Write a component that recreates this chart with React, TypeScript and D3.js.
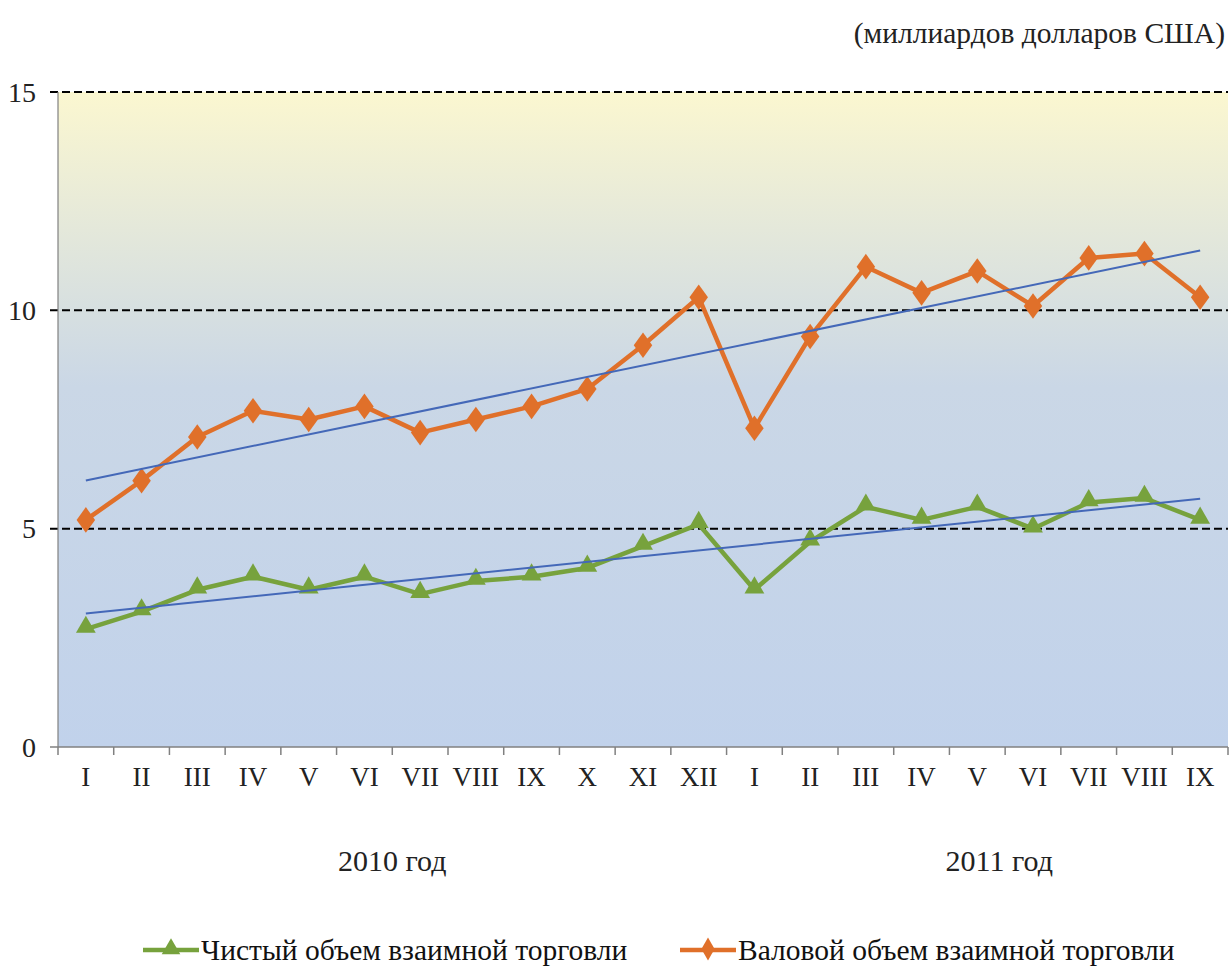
import React, { useEffect, useRef } from 'react';
import * as d3 from 'd3';

const months = ['I', 'II', 'III', 'IV', 'V', 'VI', 'VII', 'VIII', 'IX', 'X', 'XI', 'XII',
  'I', 'II', 'III', 'IV', 'V', 'VI', 'VII', 'VIII', 'IX'];
const years = [
  { label: '2010 год', from: 0, to: 11 },
  { label: '2011 год', from: 12, to: 20 },
];
const netTrade = [2.7, 3.1, 3.6, 3.9, 3.6, 3.9, 3.5, 3.8, 3.9, 4.1, 4.6, 5.1,
  3.6, 4.7, 5.5, 5.2, 5.5, 5.0, 5.6, 5.7, 5.2];
const grossTrade = [5.2, 6.1, 7.1, 7.7, 7.5, 7.8, 7.2, 7.5, 7.8, 8.2, 9.2, 10.3,
  7.3, 9.4, 11.0, 10.4, 10.9, 10.1, 11.2, 11.3, 10.3];
const yTicks = [0, 5, 10, 15];
const seriesNames = ['Чистый объем взаимной торговли', 'Валовой объем взаимной торговли'];
const unitsLabel = '(миллиардов долларов США)';

const GREEN = '#77A23D';
const ORANGE = '#E0702A';
const TREND = '#4468B8';

const App: React.FC = () => {
  const svgRef = useRef<SVGSVGElement>(null);

  useEffect(() => {
    if (!svgRef.current) return;
    const width = 1231;
    const height = 969;
    const margin = { top: 92, right: 3, bottom: 222, left: 58 };

    const svg = d3.select(svgRef.current);
    svg.selectAll('*').remove();
    svg.attr('width', width).attr('height', height)
      .style('font-family', '"Liberation Serif", "Times New Roman", serif');

    const idx = d3.range(months.length);
    const x = d3.scaleBand<number>()
      .domain(idx)
      .range([margin.left, width - margin.right]);
    const cx = (i: number) => (x(i) as number) + x.bandwidth() / 2;
    const y = d3.scaleLinear().domain([0, 15]).range([height - margin.bottom, margin.top]);

    // background gradient
    const defs = svg.append('defs');
    const grad = defs.append('linearGradient')
      .attr('id', 'bg').attr('x1', 0).attr('y1', 0).attr('x2', 0).attr('y2', 1);
    grad.append('stop').attr('offset', '0%').attr('stop-color', '#FBF7D0');
    grad.append('stop').attr('offset', '45%').attr('stop-color', '#CAD7E6');
    grad.append('stop').attr('offset', '100%').attr('stop-color', '#C1D2EB');

    svg.append('rect')
      .attr('x', margin.left).attr('y', y(15))
      .attr('width', width - margin.right - margin.left)
      .attr('height', y(0) - y(15))
      .attr('fill', 'url(#bg)');

    // gridlines
    svg.append('g')
      .selectAll('line')
      .data(yTicks.filter(t => t > 0))
      .join('line')
      .attr('x1', margin.left - 8).attr('x2', width - margin.right)
      .attr('y1', d => y(d)).attr('y2', d => y(d))
      .attr('stroke', '#000')
      .attr('stroke-width', 2)
      .attr('stroke-dasharray', '8,4');

    // y axis
    const yAxis = svg.append('g');
    yAxis.append('line')
      .attr('x1', margin.left).attr('x2', margin.left)
      .attr('y1', y(15)).attr('y2', y(0))
      .attr('stroke', '#808080').attr('stroke-width', 1.2);
    yAxis.selectAll('text')
      .data(yTicks)
      .join('text')
      .attr('x', margin.left - 22)
      .attr('y', d => y(d))
      .attr('dy', '0.35em')
      .attr('text-anchor', 'end')
      .attr('font-size', 28)
      .attr('fill', '#222')
      .text(d => d);

    // x axis
    const xAxis = svg.append('g');
    xAxis.append('line')
      .attr('x1', margin.left - 8).attr('x2', width - margin.right)
      .attr('y1', y(0)).attr('y2', y(0))
      .attr('stroke', '#808080').attr('stroke-width', 1.5);
    xAxis.selectAll('line.tick')
      .data(d3.range(months.length + 1))
      .join('line')
      .attr('class', 'tick')
      .attr('x1', d => margin.left + d * x.step())
      .attr('x2', d => margin.left + d * x.step())
      .attr('y1', y(0)).attr('y2', y(0) + 8)
      .attr('stroke', '#808080').attr('stroke-width', 1.5);
    xAxis.selectAll('text')
      .data(idx)
      .join('text')
      .attr('x', d => cx(d))
      .attr('y', y(0) + 39)
      .attr('text-anchor', 'middle')
      .attr('font-size', 27)
      .attr('fill', '#222')
      .text(d => months[d]);

    svg.append('g')
      .selectAll('text')
      .data(years)
      .join('text')
      .attr('x', d => (cx(d.from) + cx(d.to)) / 2 + (d.from > 0 ? 22 : 0))
      .attr('y', y(0) + 124)
      .attr('text-anchor', 'middle')
      .attr('font-size', 30)
      .attr('fill', '#222')
      .text(d => d.label);

    svg.append('text')
      .attr('x', width - 6)
      .attr('y', 43)
      .attr('text-anchor', 'end')
      .attr('font-size', 29.5)
      .attr('fill', '#222')
      .text(unitsLabel);

    // trend lines (least squares)
    const trend = (vals: number[]) => {
      const n = vals.length;
      const mx = d3.mean(idx) as number;
      const my = d3.mean(vals) as number;
      const sxy = d3.sum(idx, i => (i - mx) * (vals[i] - my));
      const sxx = d3.sum(idx, i => (i - mx) ** 2);
      const b = sxy / sxx;
      const a = my - b * mx;
      return [0, n - 1].map(i => [cx(i), y(a + b * i)] as [number, number]);
    };

    const line = d3.line<number>().x((_, i) => cx(i)).y(d => y(d));

    const drawSeries = (vals: number[], color: string, shape: 'tri' | 'dia') => {
      const g = svg.append('g');
      g.append('path')
        .attr('d', line(vals))
        .attr('fill', 'none')
        .attr('stroke', color)
        .attr('stroke-width', 4.5)
        .attr('stroke-linejoin', 'round');
      const sym = d3.symbol()
        .type(shape === 'tri' ? d3.symbolTriangle : d3.symbolDiamond)
        .size(shape === 'tri' ? 170 : 190);
      g.selectAll('path.m')
        .data(vals)
        .join('path')
        .attr('class', 'm')
        .attr('d', sym() as string)
        .attr('transform', (d, i) =>
          shape === 'tri'
            ? `translate(${cx(i)},${y(d) - 2})`
            : `translate(${cx(i)},${y(d)}) scale(1.25,1)`)
        .attr('fill', color);
    };

    drawSeries(netTrade, GREEN, 'tri');
    drawSeries(grossTrade, ORANGE, 'dia');

    [netTrade, grossTrade].forEach(vals => {
      svg.append('path')
        .attr('d', d3.line()(trend(vals)))
        .attr('stroke', TREND)
        .attr('stroke-width', 2)
        .attr('fill', 'none');
    });

    // legend
    const legend = [
      { name: seriesNames[0], color: GREEN, shape: d3.symbolTriangle, lx: 143 },
      { name: seriesNames[1], color: ORANGE, shape: d3.symbolDiamond, lx: 680 },
    ];
    const lg = svg.append('g');
    const ly = 950;
    legend.forEach(l => {
      lg.append('line')
        .attr('x1', l.lx).attr('x2', l.lx + 56)
        .attr('y1', ly).attr('y2', ly)
        .attr('stroke', l.color).attr('stroke-width', 4.5);
      lg.append('path')
        .attr('d', d3.symbol().type(l.shape).size(150)() as string)
        .attr('transform', `translate(${l.lx + 28},${ly - 1})`)
        .attr('fill', l.color);
      lg.append('text')
        .attr('x', l.lx + 58)
        .attr('y', ly)
        .attr('dy', '0.35em')
        .attr('font-size', 29.5)
        .attr('fill', '#111')
        .text(l.name);
    });
  }, []);

  return <svg ref={svgRef} style={{ display: 'block', position: 'absolute', left: 0, top: 0, background: '#fff' }} />;
};

export default App;
